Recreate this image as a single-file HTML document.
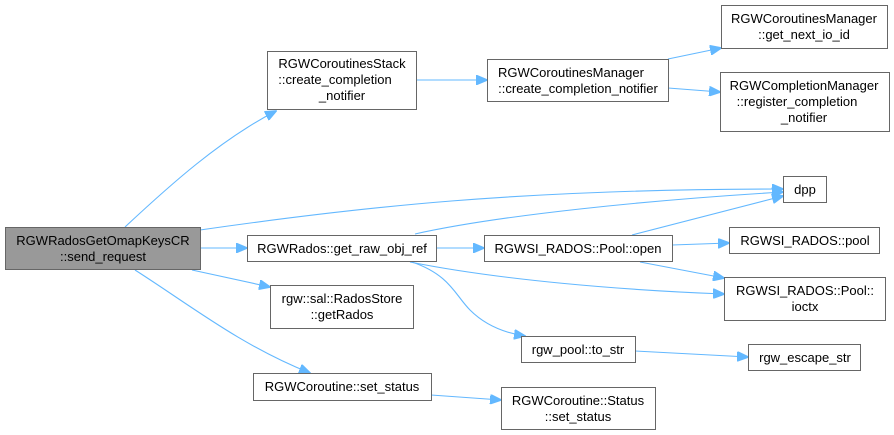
<!DOCTYPE html>
<html><head><style>
body{margin:0;background:#fff}
svg{display:block}
text{font-family:"Liberation Sans",sans-serif;font-size:13px;fill:#000;text-anchor:middle}
rect{fill:#fff;stroke:#666;stroke-width:1}
path{fill:none;stroke:#63b8ff;stroke-width:1.1}
</style></head><body>
<svg width="894" height="435" viewBox="0 0 894 435">
<defs><marker id="a" markerUnits="userSpaceOnUse" markerWidth="12" markerHeight="10" refX="11" refY="5" orient="auto"><polygon points="0,0 12,5 0,10" fill="#63b8ff" stroke="#63b8ff"/></marker></defs>
<g marker-end="url(#a)">
<path d="M125,227 C170,185 220,140 276,111"/>
<path d="M200,230 C360,207 520,189 783,189"/>
<path d="M200,248 L247,248"/>
<path d="M192,270 L270,287"/>
<path d="M135,270 C190,305 240,345 310,373"/>
<path d="M416,80 L487,80"/>
<path d="M668,59 L721,48"/>
<path d="M668,88 L720,92"/>
<path d="M415,234 C500,215 650,200 783,192"/>
<path d="M436,248 L484,248"/>
<path d="M410,262 C500,280 620,290 724,294"/>
<path d="M412,262 C450,275 455,295 470,310 C485,325 505,333 525,336"/>
<path d="M632,235 L783,196"/>
<path d="M672,245 L729,243"/>
<path d="M640,262 L724,278"/>
<path d="M635,351 L748,357"/>
<path d="M431,395 L501,400"/>
</g>
<rect x="5.5" y="227.5" width="195" height="42" style="fill:#999"/>
<text x="103" y="245">RGWRadosGetOmapKeysCR</text><text x="103" y="261">::send_request</text>
<rect x="267.5" y="51.5" width="149" height="58"/>
<text x="342" y="68">RGWCoroutinesStack</text><text x="335" y="84">::create_completion</text><text x="342" y="100">_notifier</text>
<rect x="247.5" y="235.5" width="189" height="26"/>
<text x="342" y="253">RGWRados::get_raw_obj_ref</text>
<rect x="270.5" y="285.5" width="143" height="43"/>
<text x="342" y="303">rgw::sal::RadosStore</text><text x="342" y="319">::getRados</text>
<rect x="253.5" y="373.5" width="178" height="27"/>
<text x="342" y="391">RGWCoroutine::set_status</text>
<rect x="487.5" y="59.5" width="181" height="42"/>
<text x="571" y="77">RGWCoroutinesManager</text><text x="578" y="93">::create_completion_notifier</text>
<rect x="721.5" y="5.5" width="166" height="43"/>
<text x="804" y="23">RGWCoroutinesManager</text><text x="804" y="39">::get_next_io_id</text>
<rect x="720.5" y="72.5" width="169" height="59"/>
<text x="804" y="90">RGWCompletionManager</text><text x="797" y="106">::register_completion</text><text x="804" y="122">_notifier</text>
<rect x="783.5" y="176.5" width="43" height="26"/>
<text x="805" y="194">dpp</text>
<rect x="484.5" y="235.5" width="188" height="26"/>
<text x="578" y="253">RGWSI_RADOS::Pool::open</text>
<rect x="729.5" y="227.5" width="150" height="26"/>
<text x="805" y="245">RGWSI_RADOS::pool</text>
<rect x="724.5" y="277.5" width="161" height="43"/>
<text x="805" y="295">RGWSI_RADOS::Pool::</text><text x="805" y="311">ioctx</text>
<rect x="521.5" y="336.5" width="114" height="26"/>
<text x="578" y="354">rgw_pool::to_str</text>
<rect x="748.5" y="344.5" width="112" height="26"/>
<text x="805" y="362">rgw_escape_str</text>
<rect x="501.5" y="387.5" width="154" height="42"/>
<text x="578" y="405">RGWCoroutine::Status</text><text x="578" y="421">::set_status</text>
</svg>
</body></html>
